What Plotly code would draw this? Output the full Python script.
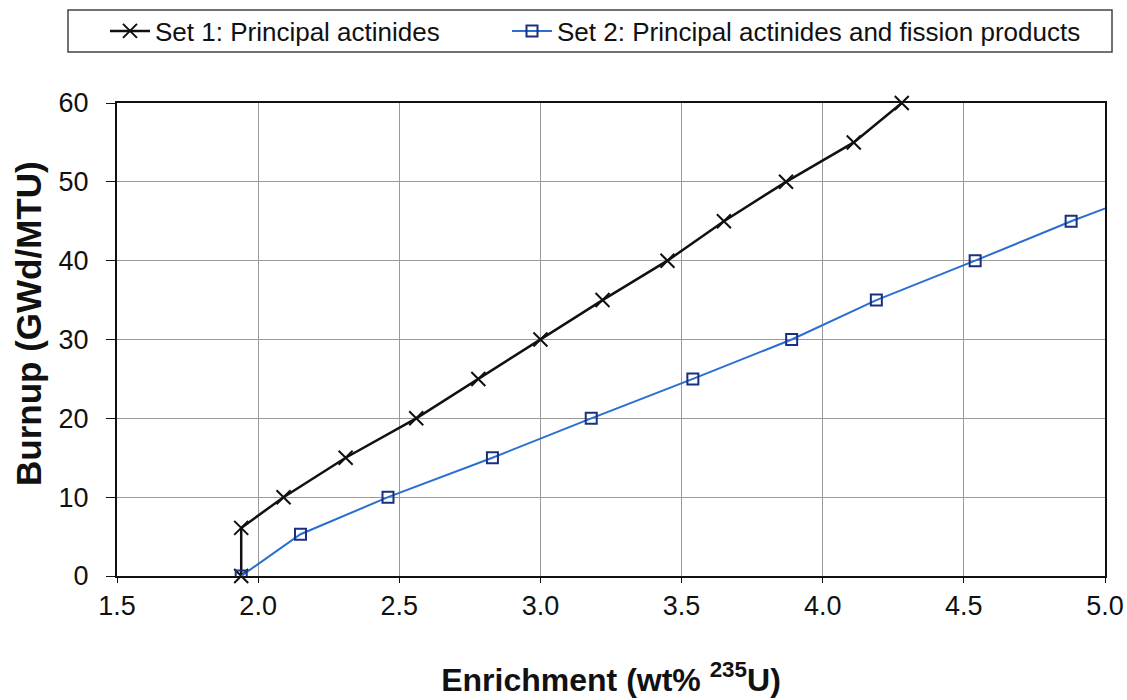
import plotly.graph_objects as go

set1_x = [1.94, 1.94, 2.09, 2.31, 2.56, 2.78, 3.00, 3.22, 3.45, 3.65, 3.87, 4.11, 4.28]
set1_y = [0, 6.1, 10, 15, 20, 25, 30, 35, 40, 45, 50, 55, 60]

set2_x = [1.94, 2.15, 2.46, 2.83, 3.18, 3.54, 3.89, 4.19, 4.54, 4.88, 5.25]
set2_y = [0, 5.3, 10, 15, 20, 25, 30, 35, 40, 45, 50]

x_ticks = [1.5, 2.0, 2.5, 3.0, 3.5, 4.0, 4.5, 5.0]
y_ticks = [0, 10, 20, 30, 40, 50, 60]

fig = go.Figure()
fig.add_trace(go.Scatter(
    x=set1_x, y=set1_y, mode="lines+markers",
    name="Set 1: Principal actinides", legend="legend",
    line=dict(color="#111111", width=2.5),
    marker=dict(symbol="x-thin", size=14, line=dict(color="#111111", width=2)),
    cliponaxis=False,
))
fig.add_trace(go.Scatter(
    x=set2_x, y=set2_y, mode="lines+markers",
    name="Set 2: Principal actinides and fission products", legend="legend2",
    line=dict(color="#2a6fd0", width=2),
    marker=dict(symbol="square-open", size=11, color="#1a2f80", line=dict(color="#1a2f80", width=2)),
    cliponaxis=True,
))

# layout geometry (page pixels; body margin removed below)
W, H = 1127, 700
L, R, T, B = 117, 22, 103, 124
PW, PH = W - L - R, H - T - B

def px(xp):
    return (xp - L) / PW

def py(yp):
    return 1 - (yp - T) / PH

font = "Liberation Sans, Arial, sans-serif"
leg_common = dict(orientation="h", yanchor="middle", y=py(31), xanchor="left",
                  borderwidth=0, bgcolor="rgba(0,0,0,0)", font=dict(size=26), itemwidth=40)
fig.update_layout(
    width=W, height=H,
    margin=dict(l=L, r=R, t=T, b=B, autoexpand=False),
    paper_bgcolor="white", plot_bgcolor="white",
    font=dict(family=font, color="#111111", size=27),
    showlegend=True,
    legend=dict(x=px(105), **leg_common),
    legend2=dict(x=px(507), **leg_common),
    shapes=[dict(type="rect", xref="paper", yref="paper",
                 x0=px(68), x1=px(1112), y0=py(52), y1=py(10),
                 line=dict(color="#444444", width=1.5), fillcolor="rgba(0,0,0,0)", layer="below")],
    xaxis=dict(
        range=[1.5, 5.0], tickvals=x_ticks, ticktext=[f"{v:.1f}" for v in x_ticks],
        showgrid=True, gridcolor="#9a9a9a", gridwidth=1,
        showline=True, linecolor="#111111", linewidth=2, mirror=True,
        ticks="outside", ticklen=5, tickcolor="#111111",
        zeroline=False,
        title=dict(text="<b>Enrichment (wt% <sup>235</sup>U)</b>", font=dict(size=32), standoff=48),
    ),
    yaxis=dict(
        range=[0, 60], tickvals=y_ticks,
        showgrid=True, gridcolor="#9a9a9a", gridwidth=1,
        showline=True, linecolor="#111111", linewidth=2, mirror=True,
        ticks="outside", ticklen=9, tickcolor="#111111", ticklabelstandoff=12,
        zeroline=False,
    ),
    annotations=[dict(text="<b>Burnup (GWd/MTU)</b>", xref="paper", yref="paper",
                      x=px(28), y=py(324), xanchor="center", yanchor="middle",
                      textangle=-90, showarrow=False, font=dict(size=35))],
)

fig.write_html("out.html",
               config={"displayModeBar": False},
               post_script="document.body.style.margin='0';document.body.style.overflow='hidden';")
